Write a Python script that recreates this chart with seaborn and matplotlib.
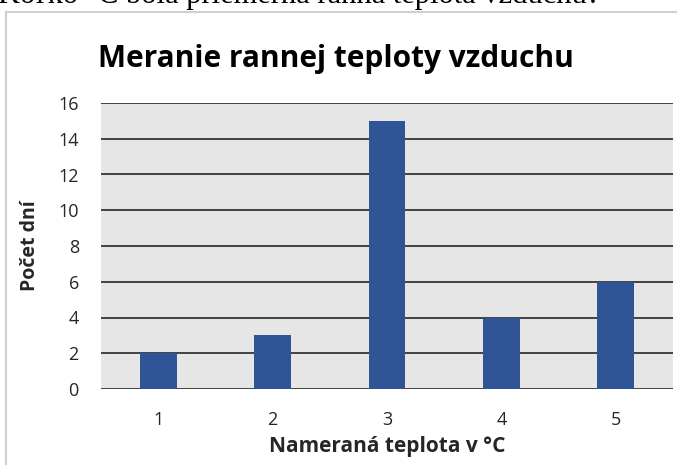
import matplotlib
matplotlib.use('Agg')
import matplotlib.pyplot as plt
import seaborn as sns
import pandas as pd
from matplotlib.patches import Rectangle

# Data
teploty = ['1', '2', '3', '4', '5']
pocet_dni = [2, 3, 15, 4, 6]
y_ticks = [0, 2, 4, 6, 8, 10, 12, 14, 16]

df = pd.DataFrame({'teplota': teploty, 'dni': pocet_dni})

sns.set_theme(style='white')
plt.rcParams['font.family'] = ['Open Sans', 'DejaVu Sans']

fig = plt.figure(figsize=(6.77, 4.65), dpi=100)
ax = fig.add_axes([101 / 677, 1 - 389 / 465, 572 / 677, 286 / 465])

# chart frame
fig.patches.append(Rectangle((6 / 677, -0.05), 1.0, 1 - 12 / 465 + 0.05,
                             transform=fig.transFigure, fill=False,
                             edgecolor='#d0d0d0', linewidth=1.5, zorder=0))

# question text cut off at the top of the picture
fig.text(-2 / 677, 1 - 3 / 465, 'Koľko °C bola priemerná ranná teplota vzduchu?',
         fontsize=22, family='Liberation Serif', va='baseline', ha='left', color='black')

sns.barplot(data=df, x='teplota', y='dni', color='#2F5597', width=0.32,
            saturation=1, linewidth=0, ax=ax, zorder=3)

ax.set_facecolor('#E6E6E6')
ax.set_ylim(0, 16)
ax.set_yticks(y_ticks)
ax.yaxis.grid(True, color='#262626', linewidth=1.2, zorder=1)
ax.set_axisbelow(True)
for s in ax.spines.values():
    s.set_visible(False)
ax.tick_params(axis='both', length=0, labelsize=13, colors='#262626')
ax.tick_params(axis='y', pad=16)
ax.tick_params(axis='x', pad=16)

ax.set_xlabel('Nameraná teplota v °C', fontsize=15, fontweight='bold', labelpad=5)
ax.set_ylabel('Počet dní', fontsize=14, fontweight='bold', labelpad=13)
ax.set_title('Meranie rannej teploty vzduchu', fontsize=21.5, fontweight='bold',
             loc='left', x=-0.005, pad=26, color='black')

fig.savefig('out.png', dpi=100)
